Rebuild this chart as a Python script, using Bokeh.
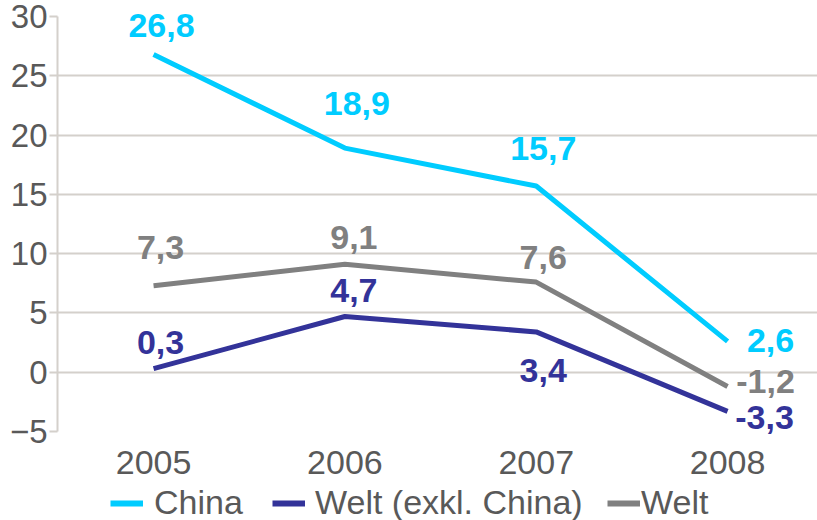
from bokeh.plotting import figure
from bokeh.layouts import column
from bokeh.models import ColumnDataSource, FixedTicker, Legend, LegendItem, Range1d
from bokeh.core.properties import value
from bokeh.embed import file_html
from bokeh.resources import INLINE

years = [2005, 2006, 2007, 2008]
china = [26.8, 18.9, 15.7, 2.6]
welt_exkl = [0.3, 4.7, 3.4, -3.3]
welt = [7.3, 9.1, 7.6, -1.2]
series_names = ["China", "Welt (exkl. China)", "Welt"]
colors = ["#00CCFF", "#333399", "#808080"]
y_ticks = [-5, 0, 5, 10, 15, 20, 25, 30]

# label offsets in screen pixels (style only; positive dy = up)
offs = {
    "China": ([8, 12, 7, 43], [29, 45, 38, 1]),
    "Welt (exkl. China)": ([7, 9, 7, 37], [26, 26, -39, -6]),
    "Welt": ([7, 9, 7, 38], [38, 27, 25, 5]),
}

font = "Liberation Sans"
grid_col = "#D4D0CB"
text_col = "#595959"

p = figure(width=817, height=484, output_backend="svg", toolbar_location=None,
           x_range=Range1d(2004.498, 2008.47), y_range=Range1d(-5, 30),
           min_border_left=57, min_border_right=0, min_border_top=16, min_border_bottom=53)
p.outline_line_color = None

p.yaxis.ticker = FixedTicker(ticks=y_ticks)
p.xaxis.ticker = FixedTicker(ticks=years)
for ax in (p.xaxis[0], p.yaxis[0]):
    ax.major_label_text_font = font
    ax.major_label_text_font_size = "34px"
    ax.major_label_text_color = text_col
    ax.axis_line_color = grid_col
    ax.axis_line_width = 2
    ax.minor_tick_line_color = None
p.yaxis.major_label_text_font_size = "33px"
p.yaxis.major_tick_line_color = grid_col
p.yaxis.major_tick_line_width = 2
p.yaxis.major_tick_out = 8
p.yaxis.major_tick_in = 0
p.yaxis.major_label_standoff = 2
p.xaxis.major_tick_line_color = None
p.xaxis.axis_line_color = None
p.xaxis.major_label_standoff = 13
p.xgrid.grid_line_color = None
p.ygrid.grid_line_color = grid_col
p.ygrid.grid_line_width = 2

sources = []
for name, vals, col in zip(series_names, [china, welt_exkl, welt], colors):
    src = ColumnDataSource(dict(x=years, y=vals,
                                t=[f"{v:.1f}".replace(".", ",") for v in vals],
                                xo=offs[name][0], yo=[-v for v in offs[name][1]]))
    sources.append(src)
    p.line("x", "y", source=src, line_color=col, line_width=5)
    p.text("x", "y", text="t", source=src, x_offset="xo", y_offset="yo",
           text_color=col, text_font=value(font), text_font_style="bold",
           text_font_size="34px", text_align="center", text_baseline="middle",
           level="overlay")

# legend strip below the chart (no axes; the series lines lie outside its view)
lg = figure(width=817, height=36, output_backend="svg", toolbar_location=None,
            x_axis_type=None, y_axis_type=None,
            x_range=Range1d(0, 1), y_range=Range1d(0, 1),
            min_border_left=0, min_border_right=0, min_border_top=0, min_border_bottom=0)
lg.outline_line_color = None
lg.grid.visible = False

legend_x = [53, 215, 550]
legend_standoff = [11, 10, 1]
for name, col, src, lx, so in zip(series_names, colors, sources, legend_x, legend_standoff):
    r = lg.line("x", "y", source=src, line_color=col, line_width=6)
    leg = Legend(items=[LegendItem(label=name, renderers=[r])], location=(lx, -2),
                 orientation="horizontal", label_text_font=font,
                 label_text_font_size="34px", label_text_color=text_col,
                 glyph_width=33, glyph_height=20, label_standoff=so,
                 padding=0, margin=0, border_line_color=None,
                 background_fill_alpha=0)
    lg.add_layout(leg, "center")

open("out.html", "w").write(file_html(column(p, lg, spacing=0), INLINE))
